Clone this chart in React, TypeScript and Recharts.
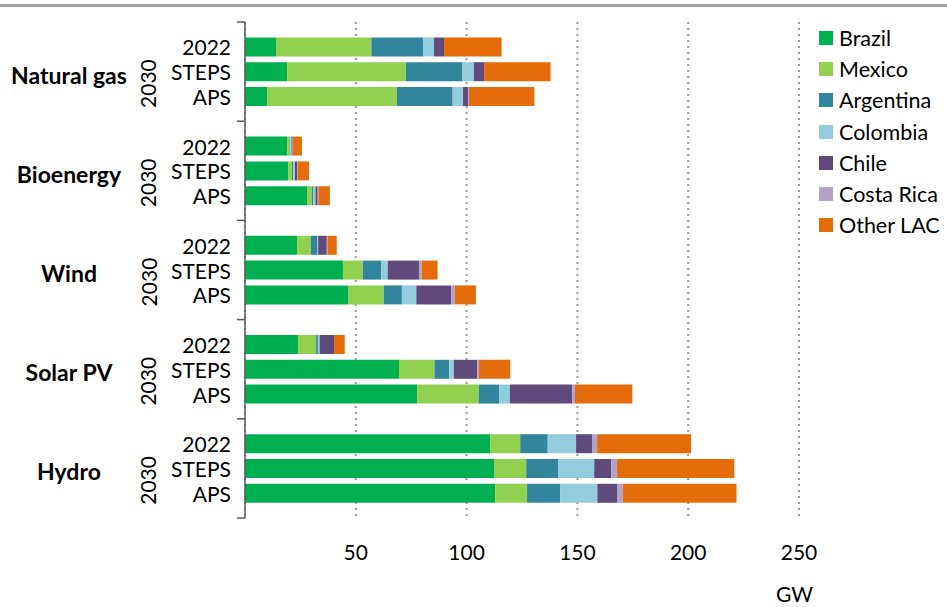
import React from "react";
import { BarChart, Bar, XAxis, YAxis, CartesianGrid, Legend } from "recharts";

const groups = ["Natural gas", "Bioenergy", "Wind", "Solar PV", "Hydro"];
const scenarios = ["2022", "STEPS", "APS"];
const countries = ["Brazil", "Mexico", "Argentina", "Colombia", "Chile", "Costa Rica", "Other LAC"];
const colors = ["#00b050", "#92d050", "#31859c", "#93cddd", "#604a7b", "#b3a2c7", "#e46c0a"];
const xTicks = [50, 100, 150, 200, 250];

// GW, order: group by group, 2022 / STEPS / APS
const brazil = [14, 19, 10, 19, 19.4, 28, 23.5, 44.2, 46.5, 23.9, 69.5, 77.7, 110.7, 112.6, 112.9];
const mexico = [43, 53.6, 58.6, 1.2, 1.8, 2.2, 6.2, 8.9, 16.1, 8.2, 16, 27.8, 13.5, 14.3, 14.4];
const argentina = [23.5, 25.5, 25.1, 0.3, 0.5, 0.6, 3, 8.4, 8.2, 0.8, 6.6, 9.2, 12.4, 14.4, 15];
const colombia = [4.8, 5.2, 4.7, 0.5, 0.8, 1, 0.3, 2.9, 6.5, 0.8, 2.1, 4.8, 12.8, 16.3, 16.7];
const chile = [4.5, 4.6, 2.4, 0.5, 1, 1, 3.9, 14.1, 15.8, 6.5, 10.6, 28.2, 7.4, 7.7, 9.1];
const costaRica = [0, 0, 0.3, 0.2, 0.2, 0.3, 0.3, 1.2, 1.6, 0, 0.7, 1.2, 2.1, 2.6, 2.4];
const otherLac = [26, 30, 29.5, 4, 5.2, 5.2, 4.2, 7.2, 9.5, 4.8, 14.2, 25.9, 42.4, 52.9, 51.3];

const series = [brazil, mexico, argentina, colombia, chile, costaRica, otherLac];

// rows, with an empty row between groups
const data: any[] = [];
groups.forEach((g, gi) => {
  if (gi > 0) data.push({ key: "gap" + gi });
  scenarios.forEach((s, si) => {
    const row: any = { key: g + "|" + s };
    countries.forEach((c, ci) => {
      row[c] = series[ci][gi * 3 + si];
    });
    data.push(row);
  });
});

const FONT = "Lato, 'Noto Sans', sans-serif";
const AXIS_X = 245;
const BAND = 24.8;

const YTick = (props: any) => {
  const { y, payload } = props;
  const v: string = payload.value;
  const tickMark = (ty: number) => (
    <line x1={AXIS_X - 8} x2={AXIS_X} y1={ty} y2={ty} stroke="#595959" strokeWidth={1.5} />
  );
  if (v.startsWith("gap")) return <g>{tickMark(y)}</g>;
  const [group, scen] = v.split("|");
  return (
    <g>
      <text x={231} y={y} textAnchor="end" dominantBaseline="central" fontSize={21} fill="#000" fontFamily={FONT}>
        {scen}
      </text>
      {scen === "STEPS" && (
        <>
          <text x={69} y={y + 3} textAnchor="middle" dominantBaseline="central" fontSize={23} fontWeight="bold" fill="#000" fontFamily={FONT}>
            {group}
          </text>
          <text x={148} y={y + 12} textAnchor="middle" dominantBaseline="central" fontSize={21} fill="#000" fontFamily={FONT} transform={`rotate(-90 148 ${y + 12})`}>
            2030
          </text>
        </>
      )}
      {group === groups[0] && scen === "2022" && tickMark(y - BAND)}
      {group === groups[groups.length - 1] && scen === "APS" && tickMark(y + BAND)}
    </g>
  );
};

const XTick = (props: any) => {
  const { x, payload } = props;
  return (
    <text x={x} y={551} textAnchor="middle" dominantBaseline="central" fontSize={21} fill="#000" fontFamily={FONT}>
      {payload.value}
    </text>
  );
};

const LegendBox = () => (
  <div style={{ fontFamily: FONT, fontSize: 21.5, color: "#000" }}>
    {countries.map((c, i) => (
      <div key={c} style={{ display: "flex", alignItems: "center", height: 31.3 }}>
        <span style={{ width: 14, height: 14, background: colors[i], marginRight: 6, display: "inline-block" }} />
        <span>{c}</span>
      </div>
    ))}
  </div>
);

export default function App() {
  return (
    <div style={{ position: "absolute", left: 0, top: 0, width: 947, height: 607, background: "#fff", fontFamily: FONT }}>
      <div style={{ position: "absolute", left: 0, top: 4, width: 947, height: 3, background: "#a0a0a0" }} />
      <BarChart
        width={947}
        height={607}
        data={data}
        layout="vertical"
        margin={{ top: 22, right: 148, bottom: 49, left: 0 }}
      >
        <CartesianGrid horizontal={false} stroke="#9a9a9a" strokeWidth={2} strokeDasharray="2 4" />
        <XAxis
          type="number"
          domain={[0, 250]}
          ticks={xTicks}
          axisLine={false}
          tickLine={false}
          height={40}
          tick={<XTick />}
        />
        <YAxis
          type="category"
          dataKey="key"
          width={AXIS_X}
          interval={0}
          tickLine={false}
          axisLine={{ stroke: "#595959", strokeWidth: 1.5 }}
          padding={{ top: 12.4, bottom: 12.4 }}
          tick={<YTick />}
        />
        {countries.map((c, i) => (
          <Bar key={c} dataKey={c} stackId="a" fill={colors[i]} barSize={19} isAnimationActive={false} />
        ))}
        <Legend
          layout="vertical"
          align="center"
          verticalAlign="middle"
          wrapperStyle={{ left: 819, top: 22, width: 128 }}
          content={<LegendBox />}
        />
      </BarChart>
      <div style={{ position: "absolute", left: 776, top: 583, fontSize: 21, lineHeight: "22px", color: "#000" }}>GW</div>
    </div>
  );
}
